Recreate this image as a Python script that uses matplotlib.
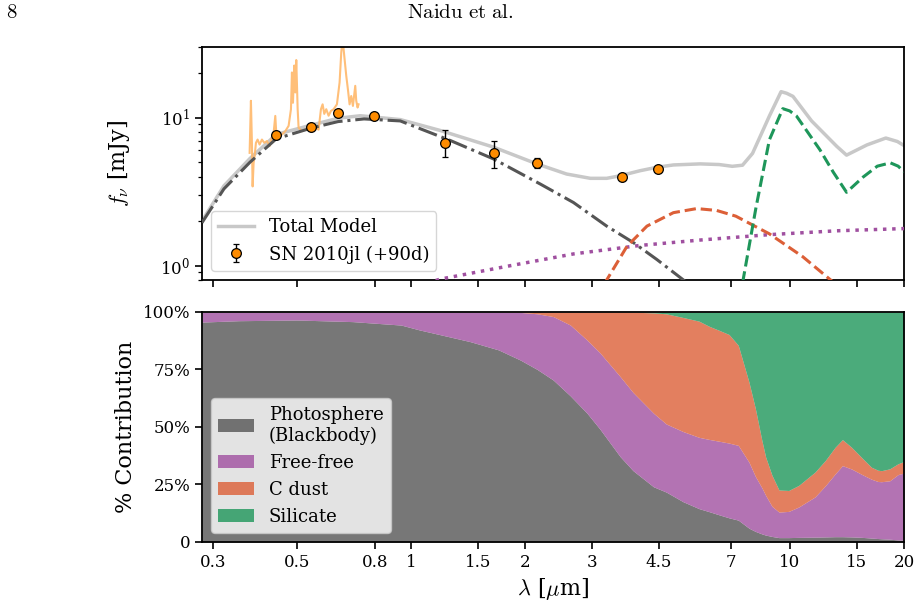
import numpy as np
import matplotlib
matplotlib.use("Agg")
import matplotlib.pyplot as plt
from matplotlib.ticker import NullLocator, NullFormatter, LogLocator

plt.rcParams['font.family'] = 'DejaVu Serif'
plt.rcParams['mathtext.fontset'] = 'cm'

# %%
# data (wavelength in micron, flux in mJy)

# photometry, SN 2010jl at +90d
phot_lam = [0.44, 0.544, 0.64, 0.795, 1.23, 1.65, 2.15, 3.59, 4.49]
phot_f = [7.58, 8.65, 10.8, 10.3, 6.76, 5.78, 4.97, 3.99, 4.48]
phot_lo = [0.4, 0.4, 0.5, 0.4, 1.36, 1.21, 0.4, 0.15, 0.15]
phot_hi = [0.4, 0.4, 0.5, 0.4, 1.44, 1.22, 0.4, 0.15, 0.15]

# optical spectrum
spec_lam = [0.3741, 0.3771, 0.3794, 0.3810, 0.3833, 0.3856, 0.3888, 0.3927,
            0.3975, 0.4032, 0.4090, 0.4157, 0.4224, 0.4285, 0.4329, 0.4373,
            0.4399, 0.4462, 0.4554, 0.4647, 0.4742, 0.4810, 0.4839, 0.4869,
            0.4908, 0.4938, 0.4968, 0.5010, 0.5039, 0.5142, 0.5248, 0.5355,
            0.5465, 0.5577, 0.5691, 0.5772, 0.5831, 0.5890, 0.5962, 0.6047,
            0.6134, 0.6234, 0.6361, 0.6465, 0.6531, 0.6584, 0.6651, 0.6732,
            0.6801, 0.6870, 0.6940, 0.7011, 0.7111, 0.7154, 0.7212, 0.7256]
spec_f = [5.78, 13.0, 6.76, 3.43, 4.94, 5.49, 6.76, 7.11,
          6.58, 7.11, 6.76, 6.95, 6.42, 7.3, 7.9, 10.27,
          7.9, 7.3, 7.7, 8.1, 8.8, 11.4, 20.2, 12.6,
          22.5, 14.8, 24.5, 11.4, 8.55, 8.1, 8.3, 8.55,
          8.1, 8.55, 8.3, 11.4, 12.3, 10.6, 11.4, 10.3,
          11.1, 11.4, 12.3, 17.3, 27.6, 34.0, 26.2, 19.2,
          15.5, 12.3, 14.0, 12.0, 16.4, 13.0, 11.7, 12.3]

# total model
tot_lam = [0.28, 0.32, 0.375, 0.44, 0.544, 0.64, 0.733, 0.935, 1.19, 1.648,
           2.145, 2.57, 2.97, 3.28, 3.56, 4.02, 4.45, 4.92, 5.79, 6.5,
           7.04, 7.49, 7.96, 8.82, 9.47, 9.8, 10.18, 11.4, 13.3, 14.1,
           15.96, 17.9, 19.2, 20.2]
tot_f = [2.0, 3.46, 5.3, 7.7, 8.9, 9.9, 10.3, 9.7, 8.2, 6.32,
         4.87, 4.16, 3.89, 3.89, 4.05, 4.38, 4.62, 4.79, 4.87, 4.82,
         4.69, 4.77, 5.73, 10.25, 14.98, 14.6, 13.92, 9.5, 6.38, 5.58,
         6.54, 7.28, 6.90, 6.38]

# photosphere (blackbody)
bb_lam = [0.28, 0.32, 0.375, 0.44, 0.544, 0.64, 0.75, 0.935, 1.267, 1.648,
          2.19, 2.68, 3.28, 3.86, 4.45, 5.23, 6.0]
bb_f = [1.95, 3.3, 5.0, 7.2, 8.5, 9.4, 9.8, 9.5, 7.01, 5.26,
        3.56, 2.67, 1.85, 1.43, 1.10, 0.80, 0.60]

# free-free
ff_lam = [1.1, 1.19, 1.79, 2.68, 4.02, 5.8, 8.82, 13.3, 20.0]
ff_f = [0.76, 0.81, 0.99, 1.2, 1.37, 1.49, 1.62, 1.72, 1.78]

# carbon dust
cd_lam = [3.1, 3.28, 3.71, 4.19, 4.92, 5.67, 6.4, 7.19, 8.82, 10.8, 13.0, 13.8]
cd_f = [0.6, 0.80, 1.35, 1.85, 2.28, 2.43, 2.36, 2.16, 1.64, 1.15, 0.774, 0.66]

# silicate dust
si_lam = [7.4, 7.5, 8.13, 8.82, 9.57, 9.98, 10.4, 12.0, 13.0, 14.1, 15.6,
          17.0, 18.4, 19.3, 20.0]
si_f = [0.6, 0.774, 2.47, 7.08, 11.5, 11.1, 10.25, 6.05, 4.29, 3.13, 3.97,
        4.7, 4.95, 4.7, 4.3]

# %%
# percent contributions, cumulative from the bottom
pct_lam = [0.28, 0.35, 0.5, 0.7, 0.94, 1.05, 1.2, 1.43, 1.7, 1.94,
           2.15, 2.37, 2.63, 2.91, 3.15, 3.56, 3.85, 4.36, 4.71, 5.22,
           5.75, 6.11, 6.5, 6.9, 7.3, 7.79, 8.1, 8.43, 8.62, 8.96,
           9.35, 9.92, 10.54, 11.64, 12.4, 13.14, 13.75, 14.55, 15.5, 16.4,
           17.07, 17.43, 18.33, 19.28, 20.0]
photo_top = [95.6, 96.2, 96.5, 95.8, 94.3, 92.2, 90.0, 87.1, 83.5, 79.1,
             75.0, 70.4, 63.5, 56.0, 49.0, 37.1, 31.0, 24.0, 21.7, 17.5,
             14.5, 13.2, 11.8, 10.5, 9.5, 6.0, 4.6, 3.5, 3.0, 2.4,
             1.9, 1.9, 2.0, 2.1, 2.2, 2.3, 2.3, 2.2, 2.0, 1.7,
             1.5, 1.4, 1.2, 0.9, 0.8]
ff_top = [100, 100, 100, 100, 100, 100, 100, 100, 100, 99.8,
          99.2, 98.0, 94.3, 87.8, 82.2, 71.9, 65.0, 56.0, 51.3, 48.0,
          45.5, 44.6, 43.8, 43.0, 42.0, 34.7, 28.5, 23.5, 20.3, 15.5,
          13.0, 13.3, 15.2, 19.6, 24.5, 29.5, 33.2, 31.7, 29.3, 27.3,
          26.3, 26.2, 26.6, 29.3, 30.0]
cd_top = [100, 100, 100, 100, 100, 100, 100, 100, 100, 100,
          100, 100, 100, 100, 100, 100, 99.9, 99.6, 99.2, 97.6,
          96.0, 93.8, 92.0, 90.2, 85.5, 69.5, 58.0, 44.0, 37.0, 29.0,
          22.6, 22.4, 24.6, 30.4, 35.5, 41.1, 44.5, 41.1, 36.5, 32.5,
          31.2, 31.0, 31.8, 34.0, 35.0]

xticks = [0.3, 0.5, 0.8, 1, 1.5, 2, 3, 4.5, 7, 10, 15, 20]
xticklabels = ['0.3', '0.5', '0.8', '1', '1.5', '2', '3', '4.5', '7', '10', '15', '20']

# %%
c_bb = '#555555'
c_ff = '#a050a0'
c_cd = '#dc5f37'
c_si = '#1e965a'

fig = plt.figure(figsize=(9.18, 6.02), dpi=100)
ax1 = fig.add_axes([0.2200, 0.5349, 0.7648, 0.3870])
ax2 = fig.add_axes([0.2200, 0.0997, 0.7648, 0.3821])

fig.text(0.007, 0.979, r'$\mathrm{8}$', fontsize=15, ha='left', va='center')
fig.text(0.501, 0.979, r'$\mathrm{Naidu\ et\ al.}$', fontsize=15, ha='center', va='center')

# top panel: SED
ax1.plot(spec_lam, spec_f, color='#ffb86b', lw=1.5, alpha=0.9, zorder=2)
ax1.plot(tot_lam, tot_f, color='#c8c8c8', lw=2.5, label='Total Model', zorder=1)
ax1.plot(bb_lam, bb_f, color=c_bb, lw=2.2, ls='-.', zorder=3)
ax1.plot(ff_lam, ff_f, color=c_ff, lw=2.5, ls=':', zorder=3)
ax1.plot(cd_lam, cd_f, color=c_cd, lw=2.2, ls='--', zorder=3)
ax1.plot(si_lam, si_f, color=c_si, lw=2.2, ls='--', zorder=3)
ax1.errorbar(phot_lam, phot_f, yerr=[phot_lo, phot_hi], fmt='o', color='#ff8c00',
             mec='black', mew=0.9, ms=7, ecolor='black', elinewidth=1.0, capsize=2,
             label='SN 2010jl (+90d)', zorder=5)

ax1.set_xscale('log')
ax1.set_yscale('log')
ax1.set_xlim(0.28, 20)
ax1.set_ylim(0.8, 30)
ax1.set_xticks(xticks)
ax1.xaxis.set_major_formatter(NullFormatter())
ax1.xaxis.set_minor_locator(NullLocator())
ax1.yaxis.set_major_locator(LogLocator(base=10, numticks=10))
ax1.yaxis.set_minor_formatter(NullFormatter())
ax1.set_ylabel(r'$f_\nu$ [mJy]', fontsize=16)
ax1.yaxis.set_label_coords(-0.100, 0.5)
ax1.legend(loc='lower left', fontsize=13, handlelength=2.0)

# bottom panel: percent contribution
ax2.fill_between(pct_lam, 0, photo_top, color=c_bb, alpha=0.8, lw=0,
                 label='Photosphere\n(Blackbody)')
ax2.fill_between(pct_lam, photo_top, ff_top, color=c_ff, alpha=0.8, lw=0, label='Free-free')
ax2.fill_between(pct_lam, ff_top, cd_top, color=c_cd, alpha=0.8, lw=0, label='C dust')
ax2.fill_between(pct_lam, cd_top, 100, color=c_si, alpha=0.8, lw=0, label='Silicate')

ax2.set_xscale('log')
ax2.set_xlim(0.28, 20)
ax2.set_ylim(0, 100)
ax2.set_xticks(xticks)
ax2.set_xticklabels(xticklabels)
ax2.xaxis.set_minor_locator(NullLocator())
ax2.set_yticks([0, 25, 50, 75, 100])
ax2.set_yticklabels(['0', '25%', '50%', '75%', '100%'])
ax2.set_ylabel('% Contribution', fontsize=16)
ax2.yaxis.set_label_coords(-0.093, 0.5)
ax2.set_xlabel(r'$\lambda$ [$\mu$m]', fontsize=16)
ax2.legend(loc='lower left', fontsize=13, handlelength=2.0)

for ax in (ax1, ax2):
    ax.tick_params(which='major', labelsize=12, length=5, width=1.2, direction='out')
    ax.tick_params(which='minor', length=3, width=0.9)
    for s in ax.spines.values():
        s.set_linewidth(1.3)

fig.savefig('out.png', dpi=100)
